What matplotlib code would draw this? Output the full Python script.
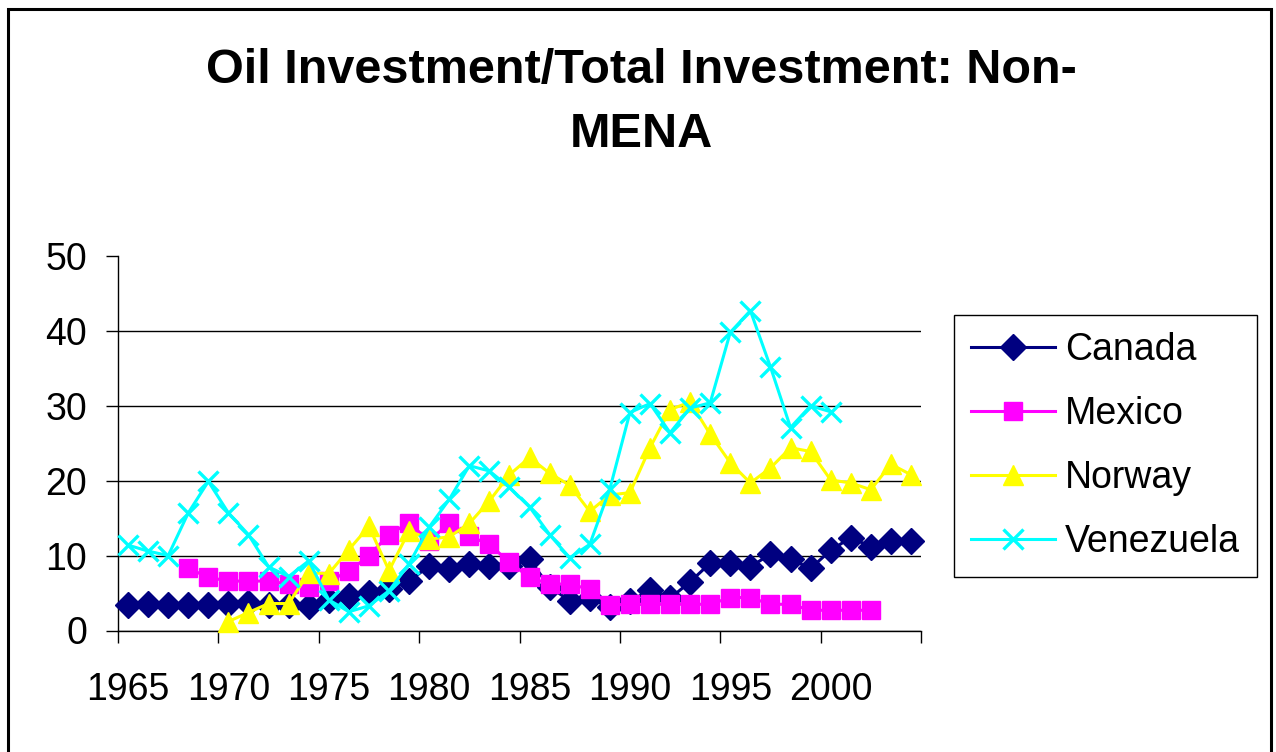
import numpy as np
import matplotlib
matplotlib.use('Agg')
import matplotlib.pyplot as plt
from matplotlib.patches import Rectangle

plt.rcParams['font.family'] = ['Liberation Sans', 'DejaVu Sans']

# ---------------- data ----------------
title = "Oil Investment/Total Investment: Non-\nMENA"

years_canada = list(range(1965, 2005))
canada = [3.4, 3.5, 3.4, 3.4, 3.4, 3.6, 3.7, 3.4, 3.4, 3.3,
          4.1, 4.6, 5.0, 5.5, 6.6, 8.6, 8.2, 8.9, 8.6, 8.6,
          9.5, 5.8, 4.0, 4.3, 3.1, 3.9, 5.4, 4.3, 6.5, 9.0,
          9.0, 8.5, 10.2, 9.5, 8.3, 10.7, 12.4, 11.2, 11.9, 11.9]

years_mexico = list(range(1968, 2003))
mexico = [8.3, 7.1, 6.6, 6.6, 6.6, 6.2, 5.8, 6.6, 7.9, 10.0,
          12.8, 14.4, 11.9, 14.4, 12.6, 11.5, 9.1, 7.1, 6.2, 6.2,
          5.5, 3.4, 3.5, 3.5, 3.5, 3.5, 3.5, 4.4, 4.4, 3.5,
          3.5, 2.7, 2.7, 2.7, 2.7]

years_norway = list(range(1970, 2005))
norway = [1.2, 2.4, 3.6, 3.6, 7.7, 7.6, 10.8, 13.9, 8.0, 13.3,
          12.2, 12.5, 14.3, 17.3, 20.8, 23.1, 21.0, 19.4, 15.9, 18.1,
          18.4, 24.4, 29.5, 30.5, 26.2, 22.4, 19.7, 21.7, 24.4, 23.9,
          20.1, 19.7, 18.8, 22.2, 20.8]

years_venezuela = list(range(1965, 2001))
venezuela = [11.4, 10.6, 10.0, 15.7, 19.9, 15.7, 12.8, 8.5, 7.2, 9.3,
             4.1, 2.5, 3.3, 5.3, 8.9, 13.8, 17.5, 22.0, 21.3, 19.1,
             16.5, 12.8, 9.7, 11.5, 18.9, 29.1, 30.3, 26.4, 29.7, 30.4,
             39.8, 42.7, 35.2, 27.1, 30.0, 29.2]

y_ticks = [0, 10, 20, 30, 40, 50]
x_labels = [1965, 1970, 1975, 1980, 1985, 1990, 1995, 2000]

# ---------------- figure ----------------
W, H = 1276, 752
fig = plt.figure(figsize=(W / 100, H / 100), dpi=100)
fig.patch.set_facecolor('white')

ax_left, ax_right = 118, 921
ax_top, ax_bottom = 256, 630.5
ax = fig.add_axes([ax_left / W, (H - ax_bottom) / H,
                   (ax_right - ax_left) / W, (ax_bottom - ax_top) / H])

lw = 2.2
ax.plot(years_canada, canada, color='#000080', lw=lw, marker='D', ms=13.5,
        mec='#000080', mew=1, label='Canada', clip_on=False, zorder=3)
ax.plot(years_mexico, mexico, color='#FF00FF', lw=lw, marker='s', ms=12.5,
        mec='#FF00FF', mew=1, label='Mexico', clip_on=False, zorder=4)
ax.plot(years_norway, norway, color='#FFFF00', lw=lw, marker='^', ms=14.5,
        mec='#FFFF00', mew=1, label='Norway', clip_on=False, zorder=5)
ax.plot(years_venezuela, venezuela, color='#00FFFF', lw=lw, marker='x', ms=14,
        mec='#00FFFF', mew=2.4, label='Venezuela', clip_on=False, zorder=6)

ax.set_xlim(1964.5, 2004.5)
ax.set_ylim(0, 50)

ax.set_yticks(y_ticks)
ax.tick_params(axis='y', direction='out', length=8.6, width=1, pad=13.7,
               labelsize=27, color='black')
ax.set_xticks(x_labels)
ax.set_xticks(np.arange(1964.5, 2005, 5), minor=True)
ax.tick_params(axis='x', which='major', length=0, pad=29.6, labelsize=27)
ax.tick_params(axis='x', which='minor', length=8.6, width=1, direction='out',
               color='black')

ax.yaxis.grid(True, color='black', lw=1)
ax.set_axisbelow(True)
ax.get_ygridlines()[-1].set_visible(False)

for s in ['top', 'right']:
    ax.spines[s].set_visible(False)
for s in ['left', 'bottom']:
    ax.spines[s].set_linewidth(1)
    ax.spines[s].set_color('black')

leg = ax.legend(loc='upper left', bbox_to_anchor=(954 / W, 1 - 315 / H),
                bbox_transform=fig.transFigure, borderaxespad=0,
                frameon=True, fancybox=False, edgecolor='black', fontsize=27,
                handlelength=2.24, handletextpad=0.27, labelspacing=0.75,
                borderpad=0.45, framealpha=1)
leg.get_frame().set_linewidth(1.0)

fig.text(641.5 / W, 1 - 47.9 / H, title, ha='center', va='top',
         fontsize=35, fontweight='bold', linespacing=1.55)

# outer chart border (bottom edge lies outside the image)
fig.add_artist(Rectangle((8 / W, -0.1), (1271 - 8) / W, (1 - 9 / H) + 0.1,
                         transform=fig.transFigure, fill=False,
                         edgecolor='black', lw=2.2, clip_on=False))

fig.savefig('out.png', dpi=100)
